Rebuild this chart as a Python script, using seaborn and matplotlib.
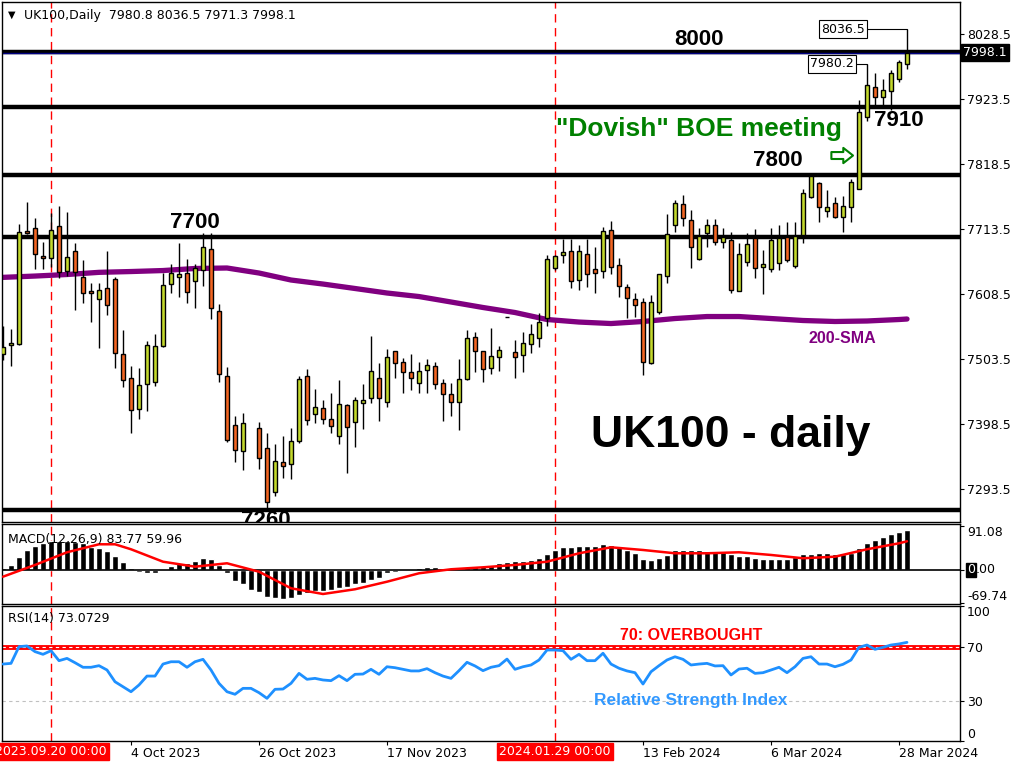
import numpy as np
import seaborn as sns
import matplotlib.pyplot as plt

nan = np.nan

# daily candles, bar 31 is missing on the chart
opens = [7511.6, 7525.6, 7528.2, 7709.8, 7714.6, 7669.4, 7667.1, 7717.8, 7646.1, 7677.5,
         7635.4, 7612.8, 7599.9, 7617.7, 7632.2, 7511.0, 7472.3, 7422.2, 7462.6, 7465.8,
         7523.9, 7624.1, 7635.4, 7641.9, 7629.9, 7647.2, 7680.7, 7580.5, 7475.5, 7396.3,
         7354.4, nan, 7391.5, 7359.2, 7288.1, 7336.6, 7333.4, 7370.5, 7476.0, 7414.1,
         7423.8, 7406.0, 7378.6, 7428.6, 7402.2, 7431.9, 7440.0, 7472.3, 7433.5, 7515.9,
         7498.1, 7481.9, 7464.2, 7485.2, 7491.7, 7464.2, 7446.5, 7433.5, 7470.7, 7538.5,
         7516.0, 7488.4, 7506.2, 7572.0, 7514.8, 7509.4, 7527.2, 7536.9, 7569.2, 7650.0,
         7671.0, 7678.0, 7630.6, 7672.6, 7648.3, 7645.1, 7711.4, 7654.8, 7620.2, 7601.2,
         7595.0, 7496.5, 7578.9, 7637.1, 7719.4, 7753.4, 7727.5, 7665.5, 7706.5, 7719.4,
         7692.0, 7695.2, 7612.8, 7660.0, 7699.0, 7651.6, 7649.0, 7658.5, 7701.0, 7653.7,
         7703.8, 7765.7, 7788.6, 7741.8, 7756.3, 7733.4, 7748.5, 7777.6, 7893.9, 7943.3,
         7927.2, 7936.4, 7955.3, 7980.8]
highs = [7556.8, 7551.5, 7721.5, 7757.1, 7731.2, 7692.5, 7738.8, 7750.6, 7740.9, 7690.4,
         7663.4, 7625.7, 7625.7, 7677.9, 7635.4, 7550.3, 7492.2, 7488.9, 7533.0, 7543.8,
         7642.9, 7656.9, 7690.4, 7664.5, 7656.9, 7706.5, 7706.5, 7592.0, 7490.5, 7411.4,
         7416.2, nan, 7401.7, 7383.4, 7366.2, 7379.1, 7391.5, 7476.0, 7487.3, 7455.0,
         7437.2, 7448.1, 7469.5, 7430.8, 7442.6, 7463.1, 7540.6, 7496.5, 7519.1, 7517.0,
         7504.6, 7511.0, 7498.1, 7503.0, 7498.1, 7470.7, 7464.2, 7503.0, 7549.8, 7546.6,
         7517.0, 7553.1, 7524.0, 7572.0, 7533.7, 7546.6, 7559.5, 7577.4, 7671.0, 7672.0,
         7696.8, 7696.8, 7687.6, 7696.8, 7683.9, 7716.7, 7725.9, 7666.1, 7624.1, 7609.6,
         7601.5, 7606.3, 7641.0, 7737.7, 7760.3, 7768.4, 7743.7, 7714.6, 7729.1, 7729.1,
         7714.6, 7708.1, 7690.4, 7707.0, 7713.5, 7679.5, 7715.0, 7720.0, 7724.8, 7725.3,
         7777.6, 7802.3, 7790.0, 7776.5, 7765.7, 7766.8, 7793.8, 7921.9, 7980.2, 7965.0,
         7955.8, 7970.3, 7986.5, 8036.5]
lows = [7501.9, 7492.6, 7526.6, 7706.0, 7649.3, 7648.8, 7652.5, 7633.8, 7637.5, 7582.6,
        7594.4, 7563.7, 7521.7, 7575.0, 7488.4, 7458.7, 7383.4, 7406.0, 7420.0, 7460.7,
        7522.3, 7610.6, 7604.1, 7593.4, 7586.3, 7621.9, 7567.5, 7466.8, 7369.9, 7337.6,
        7324.6, nan, 7325.3, 7263.0, 7282.6, 7311.8, 7309.0, 7368.3, 7396.9, 7400.6,
        7398.5, 7384.4, 7366.6, 7319.8, 7361.8, 7390.9, 7432.9, 7403.8, 7425.4, 7473.3,
        7449.0, 7453.4, 7449.0, 7449.0, 7454.5, 7403.8, 7411.9, 7389.4, 7469.5, 7483.0,
        7466.8, 7478.8, 7484.7, 7572.0, 7473.3, 7483.0, 7513.7, 7522.3, 7556.7, 7647.0,
        7658.0, 7618.6, 7615.4, 7620.2, 7610.6, 7634.8, 7640.3, 7603.2, 7569.2, 7570.8,
        7478.1, 7494.9, 7575.7, 7625.7, 7708.1, 7718.8, 7650.9, 7662.9, 7684.9, 7687.6,
        7682.3, 7610.6, 7612.8, 7654.0, 7634.0, 7608.5, 7644.0, 7647.0, 7660.0, 7650.5,
        7690.4, 7763.6, 7725.3, 7733.4, 7730.8, 7709.1, 7725.3, 7777.6, 7888.4, 7913.8,
        7913.8, 7905.7, 7950.4, 7971.3]
closes = [7522.9, 7528.9, 7709.1, 7706.5, 7672.6, 7666.1, 7711.4, 7643.5, 7667.8, 7644.0,
          7609.6, 7609.6, 7614.9, 7590.2, 7512.7, 7469.0, 7420.6, 7461.0, 7525.6, 7523.9,
          7622.5, 7641.9, 7640.3, 7611.2, 7650.0, 7683.9, 7585.4, 7478.8, 7372.1, 7355.9,
          7399.6, nan, 7343.0, 7272.0, 7338.2, 7331.1, 7370.5, 7470.7, 7404.4, 7425.9,
          7406.0, 7395.2, 7430.2, 7393.0, 7436.8, 7436.8, 7483.6, 7440.0, 7506.2, 7496.5,
          7481.9, 7472.3, 7483.6, 7493.3, 7462.6, 7446.5, 7433.5, 7470.7, 7536.9, 7516.0,
          7486.8, 7507.8, 7517.5, 7572.0, 7506.8, 7528.9, 7543.3, 7563.3, 7664.5, 7669.4,
          7676.3, 7629.0, 7678.0, 7640.3, 7641.9, 7709.8, 7651.6, 7620.9, 7601.5, 7591.4,
          7498.0, 7595.0, 7640.3, 7704.9, 7755.0, 7730.7, 7683.9, 7701.7, 7719.4, 7692.0,
          7700.1, 7614.4, 7672.6, 7689.0, 7650.5, 7657.0, 7695.7, 7699.0, 7663.4, 7702.2,
          7772.1, 7799.6, 7749.5, 7749.5, 7732.4, 7751.4, 7788.9, 7902.0, 7945.6, 7926.2,
          7938.0, 7965.0, 7983.7, 7998.1]

# 200-day simple moving average, read at every fourth bar
sma_bars = [0, 4, 8, 12, 16, 20, 24, 28, 32, 36, 40, 44, 48, 52, 56, 60, 64, 68, 72, 76,
            80, 84, 88, 92, 96, 100, 104, 108, 112, 113]
sma_vals = [7635.4, 7637.5, 7640.0, 7643.5, 7644.8, 7646.4, 7649.7, 7650.5, 7642.4, 7631.1,
            7624.6, 7617.4, 7610.1, 7604.4, 7595.6, 7586.7, 7578.6, 7567.3, 7563.2, 7560.8,
            7564.1, 7568.9, 7572.1, 7572.1, 7568.9, 7565.7, 7564.1, 7564.9, 7567.3, 7568.1]

macd_hist = [3.6, 10.5, 27.8, 41.8, 50.2, 55.8, 60.6, 61.2, 60.6, 59.1,
             55.8, 48.7, 45.4, 40.3, 29.9, 17.3, 3.6, -3.6, -5.6, -5.6,
             0.5, 8.4, 14.0, 15.3, 18.8, 25.7, 22.4, 10.5, -5.6, -22.4,
             -29.3, -41.8, -45.4, -55.8, -59.1, -61.2, -59.1, -52.3, -47.4, -43.9,
             -43.9, -41.8, -38.2, -36.2, -29.3, -26.5, -20.9, -17.3, -6.9, -3.6,
             -1.5, 0.5, 3.6, 5.6, 5.6, 2.7, 0.3, 2.7, 6.9, 8.4,
             8.4, 11.1, 14.0, 17.3, 18.8, 19.4, 20.9, 24.5, 33.4, 41.8,
             47.4, 47.4, 50.2, 50.2, 50.2, 54.3, 52.3, 48.7, 41.8, 36.2,
             23.0, 20.9, 24.5, 31.4, 41.8, 41.8, 41.8, 41.8, 39.7, 38.2,
             38.2, 32.8, 29.9, 29.9, 24.5, 22.4, 23.0, 23.0, 22.4, 26.5,
             33.4, 33.4, 34.9, 34.9, 33.4, 33.4, 34.9, 45.4, 55.8, 62.7,
             68.3, 75.2, 78.8, 83.77]
signal_bars = [0, 4, 8, 12, 14, 16, 20, 24, 28, 32, 36, 40, 44, 48, 52, 56, 60, 64, 68, 72,
               76, 80, 84, 88, 92, 96, 100, 104, 108, 112, 113]
signal_vals = [-14.0, 10.5, 37.0, 53.7, 53.7, 43.3, 17.3, 6.9, 14.0, -3.6, -38.2, -50.2, -40.3,
               -24.5, -6.9, 1.5, 5.6, 10.5, 17.3, 34.9, 47.4, 41.8, 34.9, 34.9, 37.0, 31.4,
               24.5, 27.8, 43.3, 55.8, 59.96]

rsi_vals = [57.0, 57.5, 69.9, 70.4, 66.2, 64.2, 66.9, 59.5, 61.2, 58.0,
            54.6, 54.6, 55.8, 52.6, 43.9, 40.2, 36.5, 41.5, 48.1, 48.1,
            57.0, 58.7, 58.7, 54.6, 58.7, 60.5, 52.6, 42.7, 36.5, 34.6,
            39.0, 39.0, 35.8, 31.6, 38.3, 38.5, 42.7, 50.1, 45.7, 46.4,
            45.2, 44.7, 48.4, 44.7, 49.4, 49.6, 53.1, 49.4, 55.0, 54.3,
            53.1, 51.9, 51.9, 53.6, 50.6, 48.1, 46.4, 52.1, 58.3, 55.6,
            52.1, 54.6, 55.8, 60.7, 53.1, 55.0, 56.3, 60.0, 67.4, 67.4,
            66.9, 60.5, 64.2, 59.5, 59.5, 65.0, 57.0, 53.9, 51.9, 50.6,
            42.2, 51.3, 55.8, 60.0, 62.4, 60.5, 56.3, 57.0, 57.5, 55.6,
            55.8, 48.9, 53.3, 53.9, 50.1, 50.6, 52.6, 54.6, 50.6, 55.0,
            61.2, 62.4, 57.0, 57.0, 55.0, 56.8, 60.0, 69.4, 71.1, 67.9,
            69.4, 71.1, 71.9, 73.07]

price_ticks = [8028.5, 7923.5, 7818.5, 7713.5, 7608.5, 7503.5, 7398.5, 7293.5]
levels = [8000, 7910, 7800, 7700, 7260]
date_ticks = [16, 32, 48, 80, 96, 112]
date_labels = ["4 Oct 2023", "26 Oct 2023", "17 Nov 2023", "13 Feb 2024", "6 Mar 2024", "28 Mar 2024"]
marked_bars = [6, 69]
marked_labels = ["2023.09.20 00:00", "2024.01.29 00:00"]

GREEN = "#c3d82c"
ORANGE = "#f26522"
BOLD = dict(fontfamily="Liberation Sans", fontweight="bold")

sns.set_style("white")
plt.rcParams["font.family"] = ["DejaVu Sans"]
plt.rcParams["text.color"] = "black"

W, H = 1024, 768
def rect(x0, y0, x1, y1):
    return [x0 / W, 1 - y1 / H, (x1 - x0) / W, (y1 - y0) / H]

fig = plt.figure(figsize=(10.24, 7.68), dpi=100)
ax = fig.add_axes(rect(2, 2, 960, 522))
ax_m = fig.add_axes(rect(2, 524, 960, 604), sharex=ax)
ax_r = fig.add_axes(rect(2, 606, 960, 741), sharex=ax)

for a in (ax, ax_m, ax_r):
    for s in a.spines.values():
        s.set_color("black")
        s.set_linewidth(1)
    a.yaxis.tick_right()
    a.tick_params(axis="y", length=3, pad=2, labelsize=9, colors="black", direction="out", right=True)
    a.tick_params(axis="x", bottom=False, labelbottom=False)
    for b in marked_bars:
        a.axvline(b, color="red", lw=1, ls=(0, (6, 4)), zorder=1)
ax.set_xlim(-0.125, 119.625)

# ---- price panel ----
idx = np.arange(len(opens))
o = np.array(opens); c = np.array(closes)
hi = np.array(highs); lo = np.array(lows)
up = c >= o
dn = c < o
ax.vlines(idx, lo, hi, color="black", lw=1, zorder=3)
ax.bar(idx[up], np.abs(c - o)[up], bottom=np.minimum(o, c)[up], width=0.62,
       color=GREEN, edgecolor="black", lw=1, zorder=4)
ax.bar(idx[dn], np.abs(c - o)[dn], bottom=np.minimum(o, c)[dn], width=0.62,
       color=ORANGE, edgecolor="black", lw=1, zorder=4)

for lv in levels:
    ax.axhline(lv, color="black", lw=3.2, zorder=2)
ax.axhline(closes[-1], color="#000080", lw=1, zorder=2)
sns.lineplot(x=sma_bars, y=sma_vals, ax=ax, color="#800080", lw=3.8, zorder=2)

ax.set_ylim(7240.2, 8080.2)
ax.set_yticks(price_ticks)
ax.set_yticklabels([f"{t:.1f}" for t in price_ticks])
ax.set_ylabel("")
ax.text(1.003, closes[-1], f"{closes[-1]:.1f}", transform=ax.get_yaxis_transform(),
        color="white", fontsize=9, va="center", ha="left",
        bbox=dict(fc="black", ec="black", pad=1.5))

ax.text(87.0, 8020.4, "8000", fontsize=16, ha="center", va="center", **BOLD)
ax.text(112.0, 7888.7, "7910", fontsize=16, ha="center", va="center", **BOLD)
ax.text(96.9, 7824.1, "7800", fontsize=16, ha="center", va="center", **BOLD)
ax.text(24.0, 7724.0, "7700", fontsize=16, ha="center", va="center", **BOLD)
ax.text(32.9, 7242.6, "7260", fontsize=16, ha="center", va="center", clip_on=True, **BOLD)
ax.text(87.0, 7875.8, '"Dovish" BOE meeting', fontsize=19, color="#008000",
        ha="center", va="center", **BOLD)
ax.text(91.0, 7379.9, "UK100 - daily", fontsize=32, ha="center", va="center", **BOLD)
ax.text(104.9, 7537.4, "200-SMA", fontsize=11.5, color="#800080", ha="center", va="center", **BOLD)
ax.annotate("", xy=(106.6, 7832.2), xytext=(103.2, 7832.2),
            arrowprops=dict(arrowstyle="simple,head_length=0.7,head_width=1.1,tail_width=0.5",
                            fc="white", ec="#008000", lw=1.5))

# high labels with connectors
for bar, val, cx in [(113, highs[113], 105.0), (108, highs[108], 103.6)]:
    ax.plot([cx, bar], [val, val], color="black", lw=0.8, zorder=5)
    ax.text(cx, val, f"{val:.1f}", fontsize=9, ha="center", va="center", zorder=6,
            bbox=dict(fc="white", ec="black", lw=0.8, pad=1.5))

ax.text(0.006, 0.975, "\u25bc", transform=ax.transAxes, fontsize=7, va="center", ha="left")
ax.text(0.023, 0.975, "UK100,Daily  7980.8 8036.5 7971.3 7998.1", transform=ax.transAxes,
        fontsize=9, va="center", ha="left")

# ---- MACD panel ----
ax_m.bar(idx, macd_hist, width=0.8, color="black", zorder=2)
ax_m.axhline(0, color="black", lw=1.2, zorder=2)
sns.lineplot(x=signal_bars, y=signal_vals, ax=ax_m, color="red", lw=1.8, zorder=3)
ax_m.set_ylim(-71.1, 96.1)
ax_m.set_yticks([91.08, 0, -69.74])
ax_m.set_yticklabels(["91.08", "", "-69.74"])
ax_m.get_yticklabels()[0].set_va("top")
ax_m.get_yticklabels()[2].set_va("bottom")
ax_m.set_ylabel("")
ax_m.annotate("0", xy=(1, 0), xycoords=("axes fraction", "data"), xytext=(5, 0),
              textcoords="offset points", color="white", fontsize=9, va="center", ha="left",
              bbox=dict(fc="black", ec="black", pad=0.6))
ax_m.annotate(".00", xy=(1, 0), xycoords=("axes fraction", "data"), xytext=(11.2, 0),
              textcoords="offset points", color="black", fontsize=9, va="center", ha="left")
ax_m.text(0.006, 0.8, "MACD(12,26,9) 83.77 59.96", transform=ax_m.transAxes,
          fontsize=9, va="center", ha="left")

# ---- RSI panel ----
ax_r.axhline(70, color="red", lw=3.5, zorder=2)
ax_r.axhline(70, color="white", lw=0.8, ls=(0, (3, 3)), zorder=2)
ax_r.axhline(30, color="#c0c0c0", lw=0.8, ls=(0, (3, 3)), zorder=2)
sns.lineplot(x=idx, y=rsi_vals, ax=ax_r, color="#1e90ff", lw=2, zorder=3)
ax_r.set_ylim(0, 100)
ax_r.set_yticks([100, 70, 30, 0])
ax_r.set_yticklabels(["100", "70", "30", "0"])
ax_r.get_yticklabels()[0].set_va("top")
ax_r.get_yticklabels()[3].set_va("bottom")
ax_r.set_ylabel("")
ax_r.text(0.006, 0.91, "RSI(14) 73.0729", transform=ax_r.transAxes,
          fontsize=9, va="center", ha="left")
ax_r.text(86.0, 77.8, "70: OVERBOUGHT", fontsize=11.5, color="red", ha="center", va="center", **BOLD)
ax_r.text(86.0, 29.8, "Relative Strength Index", fontsize=12.5, color="#3399ff",
          ha="center", va="center", **BOLD)

ax_r.tick_params(axis="x", bottom=True, labelbottom=True, length=3, pad=1.5,
                 labelsize=9, colors="black")
ax_r.set_xticks(date_ticks)
ax_r.set_xticklabels(date_labels, ha="left")
for b, lab in zip(marked_bars, marked_labels):
    ax_r.text(b, -0.08, lab, transform=ax_r.get_xaxis_transform(), fontsize=9,
              color="white", ha="center", va="center", clip_on=False,
              bbox=dict(fc="red", ec="red", pad=1.5))

fig.savefig("out.png", dpi=100)
